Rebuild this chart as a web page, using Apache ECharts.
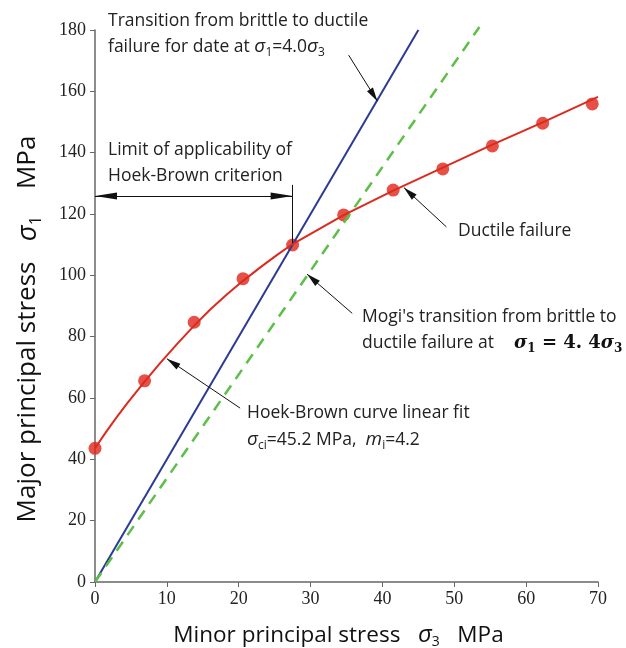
<!DOCTYPE html>
<html>
<head>
<meta charset="utf-8">
<script src="https://cdn.jsdelivr.net/npm/echarts@6/dist/echarts.min.js"></script>
<style>
html, body { margin: 0; padding: 0; background: #fff; }
#main { width: 626px; height: 648px; }
</style>
</head>
<body>
<div id="main"></div>
<script>
// test points (sigma3, sigma1) in MPa
var sigma3 = [0, 6.9, 13.8, 20.6, 27.5, 34.6, 41.5, 48.4, 55.3, 62.3, 69.2];
var sigma1 = [43.6, 65.6, 84.7, 98.9, 109.9, 119.7, 127.8, 134.7, 142.2, 149.6, 155.9];
// Hoek-Brown fit curve as drawn
var fitX = [0, 1.5, 3, 4.5, 6.9, 9, 11.5, 13.8, 16, 18.3, 20.6, 23, 25.3, 27.5, 34.6, 41.5, 48.4, 55.3, 62.3, 70];
var fitY = [43.6, 48.8, 53.7, 58.3, 65.3, 71.2, 77.8, 83.6, 88.8, 93.7, 98.2, 102.6, 106.6, 110.2, 119.6, 127.6, 135.1, 142.6, 149.9, 158.2];
// transition lines
var brittleX = [0, 45];
var brittleY = [0, 180];
var mogiX = [0, 53.5];
var mogiY = [0, 181];
var xTicks = [0, 10, 20, 30, 40, 50, 60, 70];
var yTicks = [0, 20, 40, 60, 80, 100, 120, 140, 160, 180];
// annotation arrows [fromX, fromY, toX, toY]
var arrows = [
    [35.3, 171.8, 39.3, 156.8],
    [48.9, 115.8, 43.0, 128.6],
    [35.8, 87.6, 29.5, 100.4],
    [20.2, 56.7, 10.0, 72.8]
];
var limitY = 125.9;
var limitX = 27.5;

function pairs(xs, ys) {
    return xs.map(function(x, i) { return [x, ys[i]] })
}

var head = 'path://M0,-14L0,-14M0,0L3,14L-3,14Z';
var bigHead = 'path://M0,-22L0,-22M0,0L3,22L-3,22Z';

var arrowData = arrows.map(function(a) {
    return [{ coord: [a[0], a[1]], symbol: 'none' },
            { coord: [a[2], a[3]], symbol: head, symbolSize: [7, 28] }]
});
arrowData.push([{ coord: [0, limitY], symbol: bigHead, symbolSize: [7, 44] },
                { coord: [limitX, limitY], symbol: bigHead, symbolSize: [7, 44] }]);
arrowData.push([{ coord: [limitX, 129.5], symbol: 'none' },
                { coord: [limitX, 110.5], symbol: 'none' }]);

var txt = { fontFamily: 'Open Sans', fontSize: 17.5, fill: '#222', lineHeight: 24 };
var sig = { fontFamily: 'Open Sans', fontStyle: 'italic', fontSize: 19, fill: '#222', lineHeight: 24 };
var sub = { fontFamily: 'Open Sans', fontSize: 12, fill: '#222', verticalAlign: 'bottom', lineHeight: 13 };
var richText = { t: txt, s: sig, b: sub,
    m: { fontFamily: 'DejaVu Serif', fontWeight: 'bold', fontSize: 18, fill: '#111', lineHeight: 24 },
    ms: { fontFamily: 'DejaVu Serif', fontWeight: 'bold', fontStyle: 'italic', fontSize: 18, fill: '#111', lineHeight: 24 },
    mb: { fontFamily: 'DejaVu Serif', fontWeight: 'bold', fontSize: 12, fill: '#111', verticalAlign: 'bottom', lineHeight: 13 }
};

function label(x, y, text) {
    return { type: 'text', x: x, y: y, style: { text: text, rich: richText, align: 'left', verticalAlign: 'middle' } }
}

function nameRich(size) {
    return {
        t: { fontFamily: 'Open Sans', fontSize: size, color: '#111', lineHeight: size + 6 },
        s: { fontFamily: 'Open Sans', fontStyle: 'italic', fontSize: size + 1.5, color: '#111', lineHeight: size + 6 },
        b: { fontFamily: 'Open Sans', fontSize: size * 0.62, color: '#111', verticalAlign: 'bottom', lineHeight: size * 0.66 }
    }
}

var mychart = echarts.init(document.getElementById('main'));
mychart.setOption({
    animation: false,
    backgroundColor: '#fff',
    grid: { left: 95, right: 28, top: 30, bottom: 66, outerBoundsMode: 'none', containLabel: false },
    xAxis: {
        type: 'value', min: 0, max: 70, interval: 10,
        name: '{t|Minor principal stress   }{s|σ}{b|3}{t|   MPa}',
        nameLocation: 'middle', nameGap: 39,
        nameTextStyle: { padding: [0, 16, 0, 0], rich: nameRich(22.5) },
        axisLine: { lineStyle: { color: '#666', width: 1.5 } },
        axisTick: { length: 5, lineStyle: { color: '#666' } },
        axisLabel: { fontFamily: 'Liberation Serif', fontSize: 18, color: '#222', margin: 8 },
        splitLine: { show: false }
    },
    yAxis: {
        type: 'value', min: 0, max: 180, interval: 20,
        name: '{t|Major principal stress   }{s|σ}{b|1}{t|    MPa}',
        nameLocation: 'middle', nameGap: 51, nameRotate: 90,
        nameTextStyle: { padding: [0, 46, 0, 0], rich: nameRich(26) },
        axisLine: { show: true, lineStyle: { color: '#666', width: 1.5 } },
        axisTick: { show: true, length: 5, lineStyle: { color: '#666' } },
        axisLabel: { fontFamily: 'Liberation Serif', fontSize: 18, color: '#222', margin: 9 },
        splitLine: { show: false }
    },
    series: [{
        name: 'Transition 4.0',
        type: 'line',
        data: pairs(brittleX, brittleY),
        symbol: 'none',
        clip: false,
        lineStyle: { color: '#2c3a94', width: 2 },
        markLine: {
            silent: true,
            symbol: ['none', 'none'],
            label: { show: false },
            lineStyle: { color: '#111', width: 1, type: 'solid' },
            data: arrowData
        }
    }, {
        name: 'Mogi 4.4',
        type: 'line',
        data: pairs(mogiX, mogiY),
        symbol: 'none',
        clip: false,
        lineStyle: { color: '#5dbf48', width: 2.5, type: [11, 8] }
    }, {
        name: 'Hoek-Brown fit',
        type: 'line',
        data: pairs(fitX, fitY),
        symbol: 'none',
        smooth: false,
        lineStyle: { color: '#dc2a1f', width: 2, join: 'round' }
    }, {
        name: 'Tests',
        type: 'scatter',
        data: pairs(sigma3, sigma1),
        symbolSize: 13,
        itemStyle: { color: '#e02619' }
    }],
    graphic: [
        label(108, 21, '{t|Transition from brittle to ductile}'),
        label(108, 47, '{t|failure for date at }{s|σ}{b|1}{t|=4.0}{s|σ}{b|3}'),
        label(108, 150, '{t|Limit of applicability of}'),
        label(108, 176, '{t|Hoek-Brown criterion}'),
        label(458, 231, '{t|Ductile failure}'),
        label(362, 317, '{t|Mogi\'s transition from brittle to}'),
        label(362, 343, '{t|ductile failure at}'),
        label(514, 343, '{ms|σ}{mb|1}{m| = 4. 4}{ms|σ}{mb|3}'),
        label(247, 413, '{t|Hoek-Brown curve linear fit}'),
        label(247, 440, '{s|σ}{b|ci}{t|=45.2 MPa,  }{s|m}{b|i}{t|=4.2}')
    ]
})
</script>
</body>
</html>
